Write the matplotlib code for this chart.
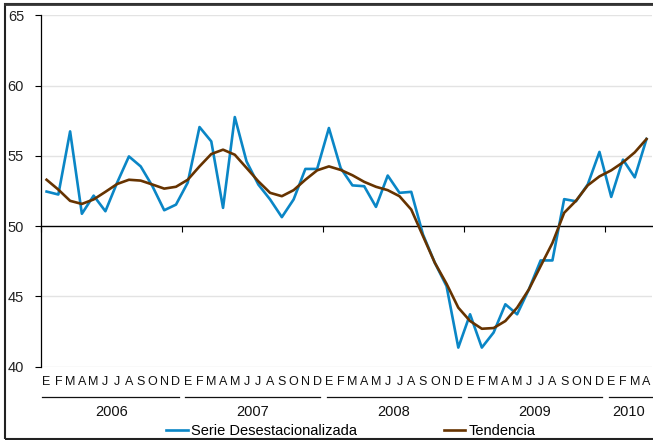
import matplotlib
matplotlib.use("Agg")
import matplotlib.pyplot as plt
from matplotlib.transforms import blended_transform_factory
from matplotlib.patches import Rectangle
import numpy as np

plt.rcParams['font.family'] = ['Liberation Sans', 'DejaVu Sans']

years = ['2006', '2007', '2008', '2009', '2010']
months_per_year = [12, 12, 12, 12, 4]
month_letters = ['E', 'F', 'M', 'A', 'M', 'J', 'J', 'A', 'S', 'O', 'N', 'D']

serie = [52.46, 52.25, 56.74, 50.88, 52.17, 51.06, 53.1, 54.96, 54.25, 52.84, 51.13, 51.53,
         53.1, 57.05, 56.03, 51.3, 57.76, 54.6, 52.96, 51.9, 50.64, 51.9, 54.07, 54.07,
         56.98, 54.13, 52.9, 52.84, 51.37, 53.6, 52.37, 52.44, 49.4, 47.4, 45.73, 41.36,
         43.73, 41.36, 42.43, 44.44, 43.73, 45.5, 47.56, 47.56, 51.92, 51.77, 52.96, 55.28,
         52.08, 54.73, 53.47, 56.2]
tendencia = [53.3, 52.6, 51.8, 51.58, 51.9, 52.44, 53.0, 53.3, 53.24, 52.96, 52.67, 52.8,
             53.3, 54.25, 55.13, 55.44, 55.08, 54.14, 53.19, 52.37, 52.13, 52.56, 53.3, 53.97,
             54.25, 54.0, 53.62, 53.15, 52.8, 52.56, 52.13, 51.18, 49.29, 47.4, 45.9, 44.2,
             43.25, 42.7, 42.75, 43.25, 44.2, 45.5, 47.16, 48.8, 50.95, 51.8, 52.9, 53.54,
             53.97, 54.54, 55.25, 56.2]
yticks = [40, 45, 50, 55, 60, 65]

BLUE = '#0A86C6'
BROWN = '#663300'

fig = plt.figure(figsize=(6.53, 4.40), dpi=100)
ax = fig.add_axes([40.7/653, 1-366.7/440, (652.4-40.7)/653, (366.7-15.3)/440])

x = np.arange(len(serie))
l1, = ax.plot(x, serie, color=BLUE, lw=1.9, label='Serie Desestacionalizada', zorder=3)
l2, = ax.plot(x, tendencia, color=BROWN, lw=1.9, label='Tendencia', zorder=4)

n = len(serie)
ax.set_xlim(-0.5, n - 0.5)
ax.set_ylim(40, 65)
ax.set_yticks(yticks)
ax.set_yticklabels([str(v) for v in yticks], fontsize=10.5, color='#222222')
ax.tick_params(axis='y', direction='out', length=4, width=0.8, pad=8)
for v in yticks:
    if v != 50:
        ax.axhline(v, color='#e3e3e3', lw=1.0, zorder=1)

for s in ['top', 'right']:
    ax.spines[s].set_visible(False)
ax.spines['left'].set_linewidth(0.9)
ax.spines['bottom'].set_position(('data', 50))
ax.spines['bottom'].set_linewidth(1.0)
ax.spines['bottom'].set_zorder(2)

bounds = np.cumsum([0] + months_per_year) - 0.5
ax.set_xticks(bounds[:-1])
ax.set_xticklabels([])
ax.tick_params(axis='x', direction='out', length=4, width=0.8)

tr = blended_transform_factory(ax.transData, fig.transFigure)
i = 0
for yi, (yr, nm) in enumerate(zip(years, months_per_year)):
    for m in range(nm):
        ax.text(i + m, 1 - 381.7/440, month_letters[m], transform=tr, ha='center', va='center',
                fontsize=9, color='#111111')
    left = i - 0.5 + (0.15 if yi == 0 else 0.3)
    right = i + nm - 0.5 - (0.25 if yi < len(years) - 1 else -0.5)
    ax.plot([left, right], [1 - 397.3/440] * 2, transform=tr, color='#111111', lw=0.9, clip_on=False)
    ax.text(i + (nm - 1) / 2, 1 - 411.5/440, yr, transform=tr, ha='center', va='center',
            fontsize=10.5, color='#111111')
    i += nm

fig.legend(handles=[l1, l2], loc='center', bbox_to_anchor=(351/653, 1 - 430.7/440), ncol=2,
           frameon=False, fontsize=10.5, handlelength=1.45, handletextpad=0.22, columnspacing=6.0,
           borderpad=0, borderaxespad=0)

fig.add_artist(Rectangle((5/653, 1.5/440), 1.0, 1 - 5.5/440, transform=fig.transFigure,
                         fill=False, ec='#222222', lw=1.5))
fig.add_artist(plt.Line2D([5/653, 1], [1 - 4/440] * 2, transform=fig.transFigure,
                          color='#333333', lw=2.0))

fig.savefig('out.png', dpi=100)
